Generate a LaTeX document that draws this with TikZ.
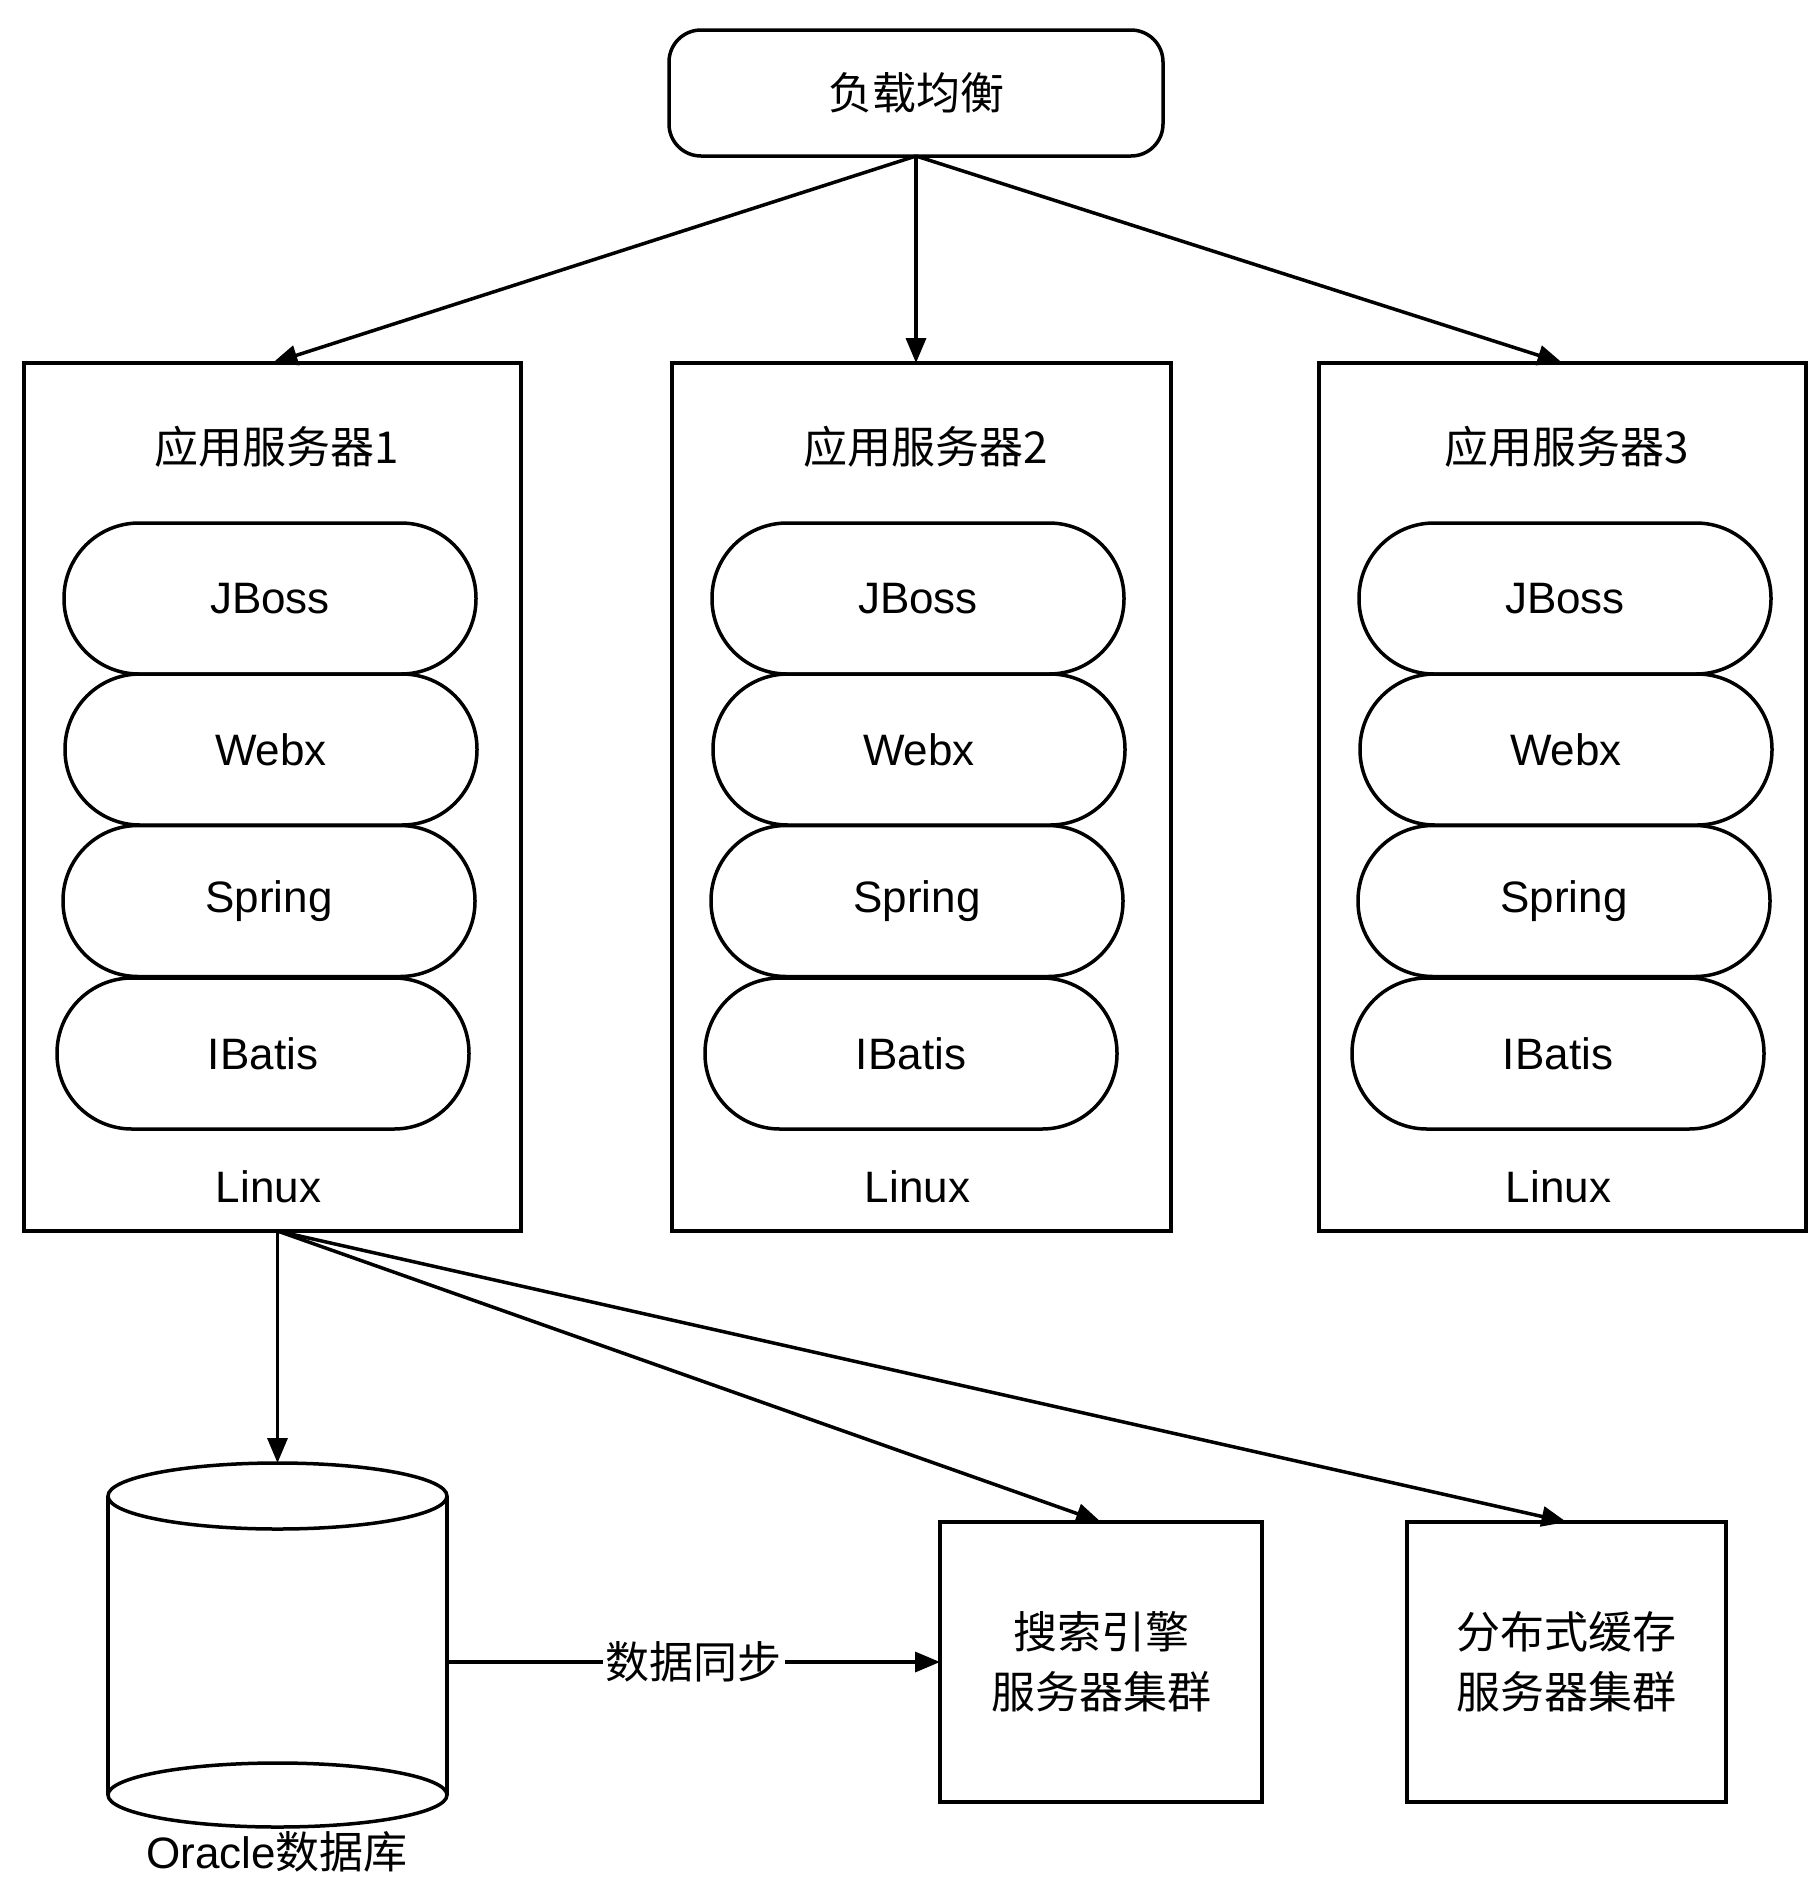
\documentclass[tikz,border=0pt]{standalone}
\usepackage{fontspec}
\setmainfont{Liberation Sans}
\newfontfamily\cjk{Noto Sans CJK SC}
\usetikzlibrary{arrows.meta}
\begin{document}
\begin{tikzpicture}[x=1pt,y=-1pt,
  every node/.style={inner sep=0pt, outer sep=0pt},
  lw/.style={line width=3.5pt},
  conn/.style={lw, -{Triangle[length=25pt,width=20pt]}},
  box/.style={draw, lw},
  srv/.style={box, minimum height=868pt},
  layer/.style={draw, lw, rounded corners=75pt, minimum width=412pt, minimum height=151pt, font=\fontsize{44}{48}\selectfont},
  ttl/.style={font=\cjk\fontsize{44}{48}\selectfont},
  lin/.style={font=\fontsize{44}{48}\selectfont},
  cjktxt/.style={font=\cjk\fontsize{44}{60}\selectfont, align=center}
]
\useasboundingbox (0,0) rectangle (1809,1880);

% load balancer
\node[box, rounded corners=32pt, minimum width=494pt, minimum height=126pt, ttl] (lb) at (916,93) {负载均衡};

% servers
\node[srv, minimum width=497pt] (s1) at (272.5,797) {};
\node[srv, minimum width=499pt] (s2) at (921.5,797) {};
\node[srv, minimum width=487pt] (s3) at (1562.5,797) {};

\foreach \n/\l/\d in {1/24/1, 2/672/2, 3/1319/3} {
  \node[ttl] (t\n) at ([xshift=4pt]s\n.north |- 0,447) {应用服务器\d};
  \node[layer] (jb\n) at (\l+246,598.5) {JBoss};
  \node[layer] (wb\n) at (\l+247,749.5) {Webx};
  \node[layer] (sp\n) at (\l+245,901) {Spring};
  \node[layer] (ib\n) at (\l+239,1053.5) {IBatis};
  \node[lin] (lx\n) at ([xshift=-4pt]s\n.north |- 0,1187) {Linux};
}

% database cylinder
\node[minimum width=339pt, minimum height=364pt] (db) at (277.5,1645) {};
\draw[lw] (277.5,1496) ellipse [x radius=169.5pt, y radius=33pt];
\draw[lw] (277.5,1795) ellipse [x radius=169.5pt, y radius=32pt];
\draw[lw] (108,1496) -- (108,1795);
\draw[lw] (447,1496) -- (447,1795);
\node[anchor=base] (dbl) at (277,1868) {\fontsize{44}{48}\selectfont Oracle{\cjk 数据库}};

% clusters
\node[box, minimum width=322pt, minimum height=280pt, cjktxt] (se) at (1101,1662) {搜索引擎\\服务器集群};
\node[box, minimum width=319pt, minimum height=280pt, cjktxt] (ca) at (1566.5,1662) {分布式缓存\\服务器集群};

% connectors
\draw[conn] (lb.south) -- (s1.north);
\draw[conn] (lb.south) -- (lb.south |- s2.north);
\draw[conn] (lb.south) -- (s3.north);
\draw[conn] (db.north |- s1.south) -- (db.north);
\draw[conn] (db.north |- s1.south) -- (se.north);
\draw[conn] (db.north |- s1.south) -- (ca.north);
\draw[conn] (db.east |- se.west) -- node[fill=white, inner xsep=3pt, inner ysep=2pt, font=\cjk\fontsize{44}{48}\selectfont] (sync) {数据同步} (se.west);
\end{tikzpicture}
\end{document}
